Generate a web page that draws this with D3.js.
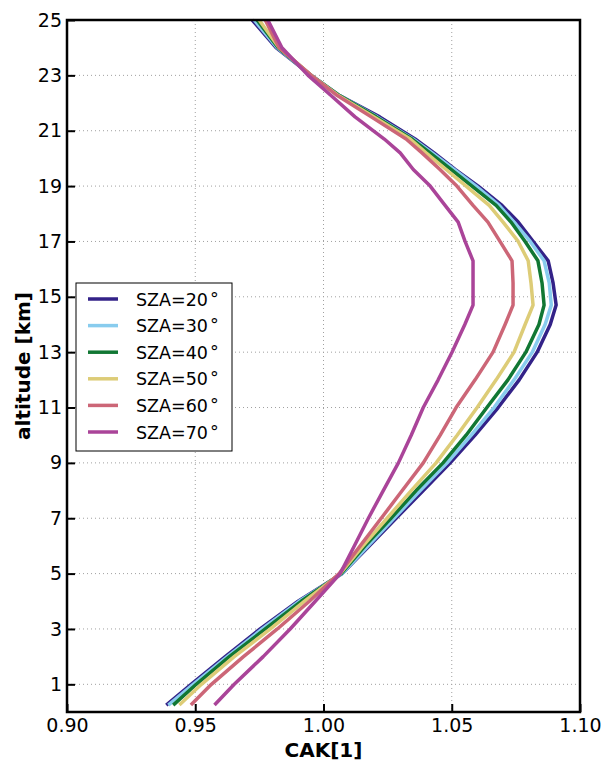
<!DOCTYPE html>
<html>
<head>
<meta charset="utf-8">
<script src="https://cdn.jsdelivr.net/npm/d3@7"></script>
<style>
  body { margin: 0; background: #fff; }
  svg { display: block; font-family: "DejaVu Sans", sans-serif; }
</style>
</head>
<body>
<svg id="chart" width="608" height="761"></svg>
<script>
// altitude levels [km]
const altitudes = [0.25, 1, 2, 3, 4, 5, 6, 7, 8, 9, 10, 11, 12, 13, 14, 14.7, 15.5, 16.3, 17, 17.7, 18.3, 19, 19.6, 20.2, 20.7, 21.5, 22.3, 23, 24, 25];

const szaLabels = ["SZA=20", "SZA=30", "SZA=40", "SZA=50", "SZA=60", "SZA=70"];
const szaColors = ["#332288", "#88CCEE", "#117733", "#DDCC77", "#CC6677", "#AA4499"];

// CAK per altitude level
const cak20 = [0.9387, 0.9484, 0.9617, 0.9753, 0.9901, 1.0073, 1.0178, 1.0283, 1.0389, 1.0494, 1.0591, 1.0681, 1.0763, 1.0833, 1.0884, 1.0907, 1.0895, 1.0876, 1.0817, 1.0759, 1.0696, 1.0603, 1.0513, 1.0431, 1.0357, 1.0219, 1.0057, 0.9952, 0.9815, 0.9722];
const cak30 = [0.9395, 0.9492, 0.9625, 0.9761, 0.9905, 1.0073, 1.0174, 1.0275, 1.0377, 1.0482, 1.0576, 1.0665, 1.0743, 1.0814, 1.0864, 1.0888, 1.0880, 1.0860, 1.0806, 1.0743, 1.0685, 1.0595, 1.0509, 1.0424, 1.0349, 1.0209, 1.0057, 0.9952, 0.9819, 0.9730];
const cak40 = [0.9414, 0.9504, 0.9633, 0.9773, 0.9913, 1.0069, 1.0162, 1.0263, 1.0361, 1.0466, 1.0556, 1.0637, 1.0719, 1.0789, 1.0840, 1.0860, 1.0852, 1.0836, 1.0786, 1.0731, 1.0673, 1.0579, 1.0497, 1.0415, 1.0345, 1.0205, 1.0057, 0.9952, 0.9823, 0.9741];
const cak50 = [0.9438, 0.9524, 0.9652, 0.9793, 0.9925, 1.0065, 1.0154, 1.0248, 1.0342, 1.0439, 1.0521, 1.0599, 1.0673, 1.0743, 1.0786, 1.0817, 1.0809, 1.0798, 1.0759, 1.0700, 1.0646, 1.0556, 1.0478, 1.0400, 1.0338, 1.0197, 1.0053, 0.9952, 0.9827, 0.9749];
const cak60 = [0.9483, 0.9563, 0.9688, 0.9820, 0.9945, 1.0061, 1.0143, 1.0225, 1.0307, 1.0389, 1.0455, 1.0517, 1.0591, 1.0661, 1.0708, 1.0739, 1.0739, 1.0735, 1.0688, 1.0641, 1.0583, 1.0520, 1.0454, 1.0384, 1.0322, 1.0186, 1.0049, 0.9952, 0.9827, 0.9773];
const cak70 = [0.9575, 0.9652, 0.9765, 0.9870, 0.9968, 1.0065, 1.0120, 1.0175, 1.0233, 1.0292, 1.0342, 1.0389, 1.0447, 1.0501, 1.0551, 1.0583, 1.0583, 1.0583, 1.0552, 1.0525, 1.0474, 1.0416, 1.0350, 1.0299, 1.0237, 1.0123, 1.0026, 0.9940, 0.9838, 0.9783];

const xTicks = [0.90, 0.95, 1.00, 1.05, 1.10];
const yTicks = [1, 3, 5, 7, 9, 11, 13, 15, 17, 19, 21, 23, 25];

const series = [cak20, cak30, cak40, cak50, cak60, cak70].map((vals, i) => ({
  label: szaLabels[i],
  color: szaColors[i],
  points: vals.map((v, j) => ({ x: v, alt: altitudes[j] }))
}));

const svg = d3.select("#chart");
const plotLeft = 67, plotRight = 580, plotTop = 20, plotBottom = 712;

const x = d3.scaleLinear().domain([0.90, 1.10]).range([plotLeft, plotRight]);
const y = d3.scaleLinear().domain([0, 25]).range([plotBottom, plotTop]);

// grid (dotted)
const grid = svg.append("g")
  .attr("stroke", "#a0a0a0")
  .attr("stroke-width", 1)
  .attr("stroke-dasharray", "1,3");
grid.selectAll("line.gx")
  .data(xTicks.slice(1, -1))
  .join("line")
  .attr("class", "gx")
  .attr("x1", d => x(d)).attr("x2", d => x(d))
  .attr("y1", plotTop).attr("y2", plotBottom);
grid.selectAll("line.gy")
  .data(yTicks.filter(d => d < 25))
  .join("line")
  .attr("class", "gy")
  .attr("x1", plotLeft).attr("x2", plotRight)
  .attr("y1", d => y(d)).attr("y2", d => y(d));

// profiles
const line = d3.line()
  .x(d => x(d.x))
  .y(d => y(d.alt));

svg.append("g")
  .selectAll("path")
  .data(series)
  .join("path")
  .attr("d", d => line(d.points))
  .attr("fill", "none")
  .attr("stroke", d => d.color)
  .attr("stroke-width", 3.5)
  .attr("stroke-linejoin", "round");

// frame
svg.append("rect")
  .attr("x", plotLeft).attr("y", plotTop)
  .attr("width", plotRight - plotLeft).attr("height", plotBottom - plotTop)
  .attr("fill", "none")
  .attr("stroke", "#000")
  .attr("stroke-width", 2.5);

// axes with inward ticks
const xAxis = svg.append("g")
  .attr("transform", `translate(0,${plotBottom})`)
  .call(d3.axisBottom(x).tickValues(xTicks).tickFormat(d3.format(".2f"))
    .tickSizeInner(-8).tickSizeOuter(0).tickPadding(7));
const yAxis = svg.append("g")
  .attr("transform", `translate(${plotLeft},0)`)
  .call(d3.axisLeft(y).tickValues(yTicks).tickFormat(d3.format("d"))
    .tickSizeInner(-8).tickSizeOuter(0).tickPadding(5));

[xAxis, yAxis].forEach(a => {
  a.select(".domain").remove();
  a.selectAll(".tick line").attr("stroke", "#000").attr("stroke-width", 2);
  a.selectAll(".tick text")
    .attr("fill", "#000")
    .attr("font-size", 19)
    .attr("font-family", "DejaVu Sans, sans-serif");
});

// axis titles
svg.append("text")
  .attr("x", x(1.0)).attr("y", 757)
  .attr("text-anchor", "middle")
  .attr("font-size", 20).attr("font-weight", "bold")
  .text("CAK[1]");

svg.append("text")
  .attr("transform", `translate(30,${(plotTop + plotBottom) / 2}) rotate(-90)`)
  .attr("text-anchor", "middle")
  .attr("font-size", 20).attr("font-weight", "bold")
  .text("altitude [km]");

// legend
const legend = svg.append("g").attr("transform", "translate(76,283)");
legend.append("rect")
  .attr("width", 156).attr("height", 168)
  .attr("fill", "#fff")
  .attr("stroke", "#000")
  .attr("stroke-width", 1);

const entry = legend.selectAll("g.entry")
  .data(series)
  .join("g")
  .attr("class", "entry")
  .attr("transform", (d, i) => `translate(0,${16 + i * 26.6})`);
entry.append("line")
  .attr("x1", 12).attr("x2", 42)
  .attr("stroke", d => d.color)
  .attr("stroke-width", 3.5);
entry.append("text")
  .attr("x", 60).attr("y", 6.5)
  .attr("font-size", 17.5)
  .text(d => d.label)
  .append("tspan")
  .attr("dx", 2).attr("dy", -1)
  .text("°");
</script>
</body>
</html>
